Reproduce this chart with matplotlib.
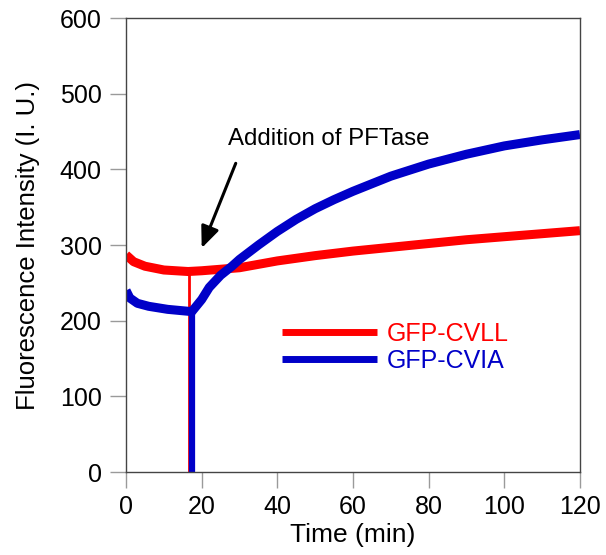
import matplotlib
matplotlib.use("Agg")
import matplotlib.pyplot as plt

# values
t_cvll = [0, 2, 5, 10, 16.4, 20, 25, 30, 40, 50, 60, 70, 80, 90, 100, 110, 120]
f_cvll = [287, 278, 272, 267, 265, 266, 268, 270, 279, 286, 292, 297, 302, 307, 311, 315, 319]

t_cvia = [0, 1, 3, 6, 11, 17.4, 20, 22, 25, 28, 30, 35, 40, 45, 50, 55, 60, 70, 80, 90, 100, 110, 120]
f_cvia = [240, 230, 223, 219, 215, 212, 228, 244, 260, 272, 281, 300, 318, 334, 348, 360, 371, 391, 407, 420, 431, 439, 446]

# signal drop when the enzyme was added
drop_t = [16.55, 17.4]
drop_top = [265, 212]

red = '#ff0000'
blue = '#0000c8'

plt.rcParams['font.family'] = ['Liberation Sans', 'DejaVu Sans']

fig = plt.figure(figsize=(6.06, 5.55), dpi=100)
ax = fig.add_axes([0.208, 0.1495, 0.749, 0.818])

ax.plot(t_cvll, f_cvll, color=red, lw=6.5, solid_capstyle='butt', label='GFP-CVLL')
ax.vlines(drop_t[0], -3, drop_top[0], color=red, lw=2)
ax.plot(t_cvia, f_cvia, color=blue, lw=6.5, solid_capstyle='butt', label='GFP-CVIA')
ax.vlines(drop_t[1], -3, drop_top[1], color=blue, lw=4.5)

# arrow and its caption
ax.annotate('', xy=(20, 296), xytext=(29, 408),
            arrowprops=dict(arrowstyle='-|>,head_length=1.3,head_width=0.55',
                            color='black', lw=2.2, shrinkA=0, shrinkB=0))
ax.text(27.0, 432, 'Addition of PFTase', fontsize=17.3, ha='left', va='baseline')

ax.set_xlim(0, 120)
ax.set_ylim(0, 600)
ax.set_xticks([0, 20, 40, 60, 80, 100, 120])
ax.set_yticks([0, 100, 200, 300, 400, 500, 600])
ax.tick_params(direction='out', length=11.5, width=1, color='#9a9a9a',
               labelsize=18, pad=5)
ax.tick_params(axis='y', pad=6)
for s in ax.spines.values():
    s.set_color('#444444')
    s.set_linewidth(1)

ax.set_xlabel('Time (min)', fontsize=19, labelpad=3)
ax.set_ylabel('Fluorescence Intensity (I. U.)', fontsize=18.5, labelpad=14)

leg = ax.legend(loc='upper left', bbox_to_anchor=(0.343, 0.33), frameon=False,
                fontsize=18, handlelength=3.8, handletextpad=0.4,
                labelspacing=0.1, borderpad=0, borderaxespad=0,
                labelcolor='linecolor')
for h in leg.get_lines():
    h.set_linewidth(5)

plt.savefig('out.png', dpi=100)
